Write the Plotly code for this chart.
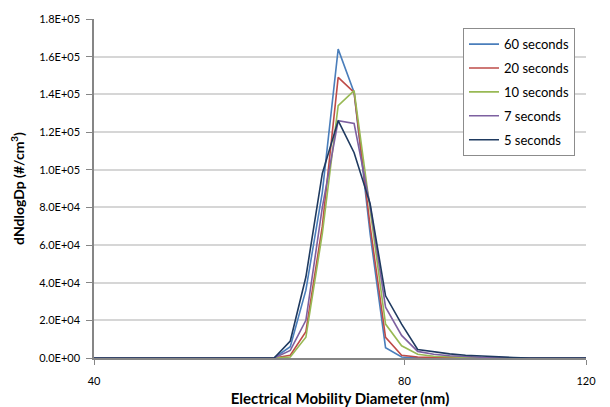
import plotly.graph_objects as go

# Electrical mobility diameter (nm) - bin midpoints
diameter_nm = [40.0, 57.7, 59.8, 62.0, 64.2, 66.6, 69.0, 71.5, 74.1, 76.7, 79.5,
               82.4, 85.4, 88.5, 91.7, 95.0, 98.4, 102.0, 105.7, 120.0]

series_names = ["60 seconds", "20 seconds", "10 seconds", "7 seconds", "5 seconds"]

s60 = [0, 0, 0, 6000, 36000, 88000, 164000, 141000, 66000, 5500, 500,
       100, 0, 0, 0, 0, 0, 0, 0, 0]
s20 = [0, 0, 0, 1500, 14000, 70000, 149000, 141000, 70000, 11000, 1500,
       500, 200, 0, 0, 0, 0, 0, 0, 0]
s10 = [0, 0, 0, 500, 11000, 66000, 134000, 142000, 80000, 18000, 6500,
       2000, 900, 500, 200, 100, 0, 0, 0, 0]
s7 = [0, 0, 0, 4000, 20000, 80000, 126000, 124500, 81000, 27000, 12000,
      3500, 2000, 1200, 700, 400, 200, 0, 0, 0]
s5 = [0, 0, 0, 9000, 43000, 98000, 126000, 109000, 82000, 33000, 18000,
      4500, 3200, 2200, 1500, 1000, 600, 300, 0, 0]

series_values = [s60, s20, s10, s7, s5]
series_colors = ["#4a7ebb", "#be4b48", "#98b954", "#7d60a0", "#1f3a60"]

y_tick_vals = [0, 20000, 40000, 60000, 80000, 100000, 120000, 140000, 160000, 180000]
y_tick_text = ["0.0E+00", "2.0E+04", "4.0E+04", "6.0E+04", "8.0E+04",
               "1.0E+05", "1.2E+05", "1.4E+05", "1.6E+05", "1.8E+05"]
x_tick_vals = [40, 80, 120]
x_tick_text = ["40", "80", "120"]

FONT = "Lato"

fig = go.Figure()
for name, vals, col in zip(series_names, series_values, series_colors):
    fig.add_trace(go.Scatter(
        x=diameter_nm, y=vals, mode="lines", name=name,
        line=dict(color=col, width=1.6), legendgroup=name,
    ))

# page body has an 8px margin, so the figure is sized/offset to compensate
fig.update_layout(
    width=602, height=399,
    margin=dict(l=86, r=24, t=11, b=49),
    paper_bgcolor="white", plot_bgcolor="white",
    font=dict(family=FONT, size=11, color="#000000"),
    showlegend=True,
    legend=dict(
        x=0.75, y=0.973, xanchor="left", yanchor="top",
        bgcolor="white", bordercolor="#8c8c8c", borderwidth=1,
        font=dict(family=FONT, size=13, color="#000000"),
        tracegroupgap=4, itemwidth=30,
    ),
    xaxis=dict(
        type="log", range=[1.60206, 2.07918],
        tickvals=x_tick_vals, ticktext=x_tick_text,
        showgrid=False, zeroline=False,
        showline=True, linecolor="#868686", linewidth=1.5,
        ticks="outside", ticklen=5, tickcolor="#868686",
        tickfont=dict(family=FONT, size=11),
        ticklabelstandoff=7,
        automargin=False,
        title=dict(text="<b>Electrical Mobility Diameter (nm)</b>",
                   font=dict(family=FONT, size=15), standoff=19),
    ),
    yaxis=dict(
        range=[0, 180000],
        tickvals=y_tick_vals, ticktext=y_tick_text,
        showgrid=True, gridcolor="#d6d6d6", gridwidth=1.5,
        zeroline=False,
        showline=True, linecolor="#868686", linewidth=1.5,
        ticks="outside", ticklen=6, tickcolor="#868686",
        tickfont=dict(family=FONT, size=11),
        ticklabelstandoff=4,
        automargin=False,
        title=dict(text="<b>dNdlogDp (#/cm<sup>3</sup>)</b>",
                   font=dict(family=FONT, size=14), standoff=16),
    ),
)

fig.write_html("out.html")
